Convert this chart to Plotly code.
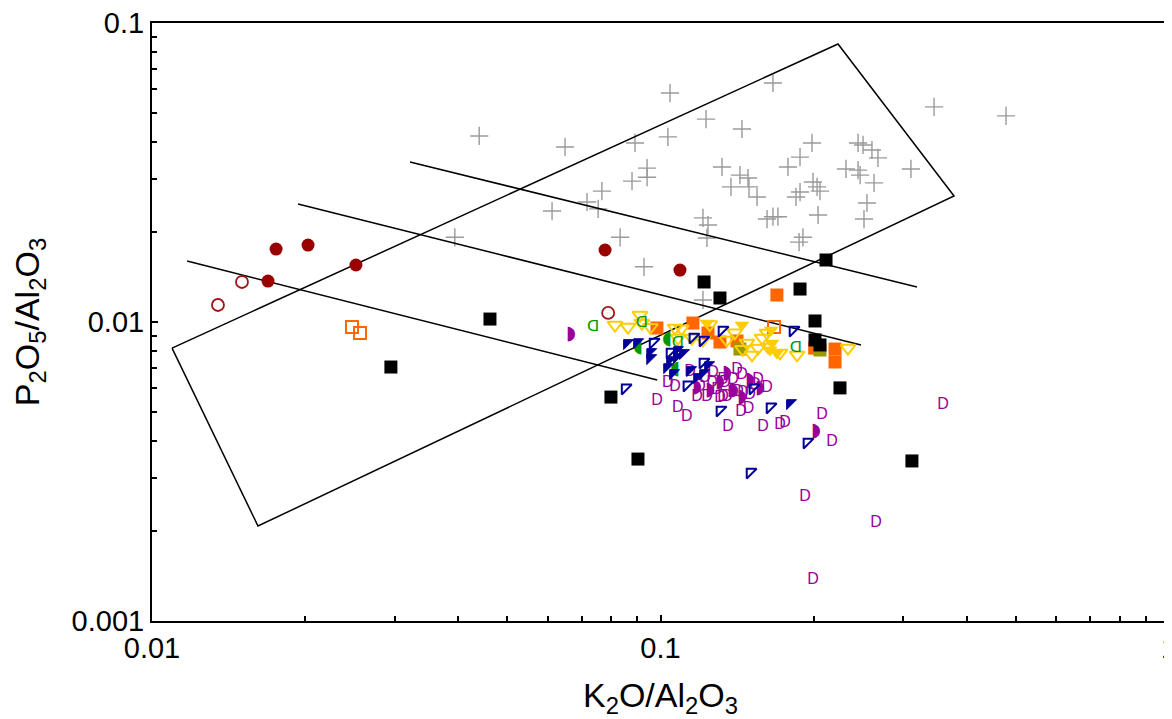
import plotly.graph_objects as go

# ---------------- data ----------------
# classification field boundaries (K2O/Al2O3, P2O5/Al2O3)
box_x = [0.01095, 0.2234, 0.3778, 0.01616, 0.01095]
box_y = [0.00818, 0.0851, 0.02638, 0.002078, 0.00818]
lowk_x = [0.01172, 0.0985]
lowk_y = [0.0160, 0.0064]
hik_x = [0.01937, 0.2479]
hik_y = [0.0248, 0.00838]
sho_x = [0.03216, 0.3194]
sho_y = [0.0343, 0.0131]

field_labels = ["Shoshonitic", "Hi-K", "Med-K", "Low-K"]
field_lab_x = [0.50, 0.348, 0.2764, 0.0466]
field_lab_y = [0.01895, 0.00962, 0.00492, 0.002916]

gray_x = [0.0394, 0.0440, 0.0612, 0.0649, 0.0717, 0.0754, 0.0767, 0.0833, 0.0879, 0.0891,
          0.0928, 0.0941, 0.0941, 0.1034, 0.1044, 0.1212, 0.1212, 0.1229, 0.1234, 0.1240,
          0.1321, 0.1376, 0.1433, 0.1446, 0.1486, 0.1493, 0.1548, 0.1620, 0.1664, 0.1664,
          0.1702, 0.1781, 0.1847, 0.1873, 0.1881, 0.1881, 0.1906, 0.1986, 0.1995, 0.2032,
          0.2041, 0.2059, 0.2316, 0.2446, 0.2446, 0.2469, 0.2502, 0.2513, 0.2547, 0.2605,
          0.2630, 0.2677, 0.3108, 0.3451, 0.4781]
gray_y = [0.0192, 0.0419, 0.0235, 0.0385, 0.0252, 0.0239, 0.0274, 0.0192, 0.0296, 0.0397,
          0.0153, 0.0327, 0.0305, 0.0416, 0.0583, 0.0223, 0.01185, 0.0477, 0.0191, 0.0211,
          0.0330, 0.0283, 0.0310, 0.0442, 0.0303, 0.0283, 0.0262, 0.0221, 0.0630, 0.0225,
          0.0225, 0.0330, 0.0262, 0.0185, 0.0356, 0.0272, 0.0192, 0.0397, 0.0294, 0.0283,
          0.0228, 0.0274, 0.0325, 0.0397, 0.0322, 0.0310, 0.0391, 0.0221, 0.0250, 0.0376,
          0.0292, 0.0354, 0.0325, 0.0524, 0.0489]

red_fill_x = [0.01691, 0.01754, 0.02027, 0.02518, 0.0778, 0.1092]
red_fill_y = [0.01371, 0.01754, 0.01809, 0.01551, 0.01741, 0.01492]

red_open_x = [0.01348, 0.01503, 0.0789]
red_open_y = [0.01140, 0.01361, 0.01072]

orange_open_x = [0.02474, 0.02565, 0.1672]
orange_open_y = [0.00962, 0.00919, 0.00962]

orange_fill_x = [0.0984, 0.1158, 0.1240, 0.1309, 0.1414, 0.1694, 0.2204, 0.2204, 0.2010]
orange_fill_y = [0.00955, 0.00992, 0.00919, 0.00857, 0.00864, 0.01231, 0.00812, 0.00735, 0.00818]

olive_x = [0.1433, 0.2059]
olive_y = [0.00812, 0.00806]

yellow_open_x = [0.0814, 0.0863, 0.0911, 0.0919, 0.0955, 0.1068, 0.1082, 0.1100, 0.1153, 0.1212,
                 0.1250, 0.1350, 0.1400, 0.1450, 0.1479, 0.1513, 0.1555, 0.1584, 0.1620, 0.1627,
                 0.1718, 0.1856, 0.2337]
yellow_open_y = [0.00977, 0.00962, 0.01055, 0.00992, 0.00960, 0.00955, 0.00884, 0.00950, 0.00884, 0.00871,
                 0.00980, 0.00870, 0.00920, 0.00810, 0.00851, 0.00776, 0.00818, 0.00884, 0.00919, 0.00825,
                 0.00788, 0.00776, 0.00818]

yellow_fill_x = [0.1234, 0.1446, 0.1642, 0.1694, 0.1657, 0.1650]
yellow_fill_y = [0.00992, 0.00977, 0.00806, 0.00788, 0.00851, 0.00940]

green_open_x = [0.0737, 0.1082, 0.1847, 0.0919]
green_open_y = [0.00962, 0.00851, 0.00818, 0.00992]
green_fill_x = [0.0903, 0.1030, 0.1068]
green_fill_y = [0.00825, 0.00877, 0.00696]

purple_open_x = [0.0984, 0.1034, 0.1068, 0.1082, 0.1127, 0.1180, 0.1196, 0.1234, 0.1263, 0.1269,
                 0.1291, 0.1309, 0.1327, 0.1339, 0.1327, 0.1351, 0.1357, 0.1388, 0.1388, 0.1414,
                 0.1421, 0.1440, 0.1446, 0.1453, 0.1490, 0.1500, 0.1534, 0.1591, 0.1620, 0.1718,
                 0.1757, 0.2078, 0.2174, 0.1924, 0.2653, 0.1995, 0.3594, 0.1143, 0.1223, 0.1555]
purple_open_y = [0.00544, 0.00625, 0.00606, 0.00516, 0.00481, 0.00561, 0.00606, 0.00561, 0.00625, 0.00675,
                 0.00592, 0.00557, 0.00640, 0.00625, 0.00561, 0.00561, 0.00446, 0.00640, 0.00579, 0.00691,
                 0.00583, 0.00500, 0.00665, 0.00579, 0.00512, 0.00570, 0.00616, 0.00446, 0.00602, 0.00452,
                 0.00460, 0.00489, 0.00397, 0.00260, 0.00213, 0.00137, 0.00528, 0.00680, 0.00650, 0.00640]
purple_fill_x = [0.0667, 0.1180, 0.1309, 0.1351, 0.1388, 0.1446, 0.1252, 0.1500, 0.2022, 0.1569]
purple_fill_y = [0.00912, 0.00606, 0.00630, 0.00675, 0.00592, 0.00561, 0.00592, 0.00640, 0.00432, 0.00602]

navy_open_x = [0.0852, 0.0967, 0.1044, 0.1127, 0.1158, 0.1212, 0.1212, 0.1321, 0.1309, 0.1520,
               0.1642, 0.1941, 0.1500, 0.1822]
navy_open_y = [0.00602, 0.00857, 0.00794, 0.00616, 0.00891, 0.00871, 0.00735, 0.00940, 0.00508, 0.00602,
               0.00520, 0.00397, 0.00315, 0.00940]
navy_fill_x = [0.0859, 0.0899, 0.0954, 0.0954, 0.1044, 0.1077, 0.1107, 0.1030, 0.1058, 0.1143,
               0.1180, 0.1212, 0.1240, 0.1797, 0.1077]
navy_fill_y = [0.00851, 0.00857, 0.00794, 0.00758, 0.00746, 0.00764, 0.00788, 0.00707, 0.00675, 0.00691,
               0.00655, 0.00675, 0.00718, 0.00536, 0.00806]

black_x = [0.0295, 0.0462, 0.0799, 0.0903, 0.1218, 0.1309, 0.1881, 0.2013, 0.2013, 0.2059,
           0.2116, 0.2254, 0.3122]
black_y = [0.00707, 0.01023, 0.00561, 0.00348, 0.01361, 0.01203, 0.01289, 0.01008, 0.00871, 0.00838,
           0.01612, 0.00602, 0.00343]

x_major = [0.01, 0.1, 1]
x_major_text = ["0.01", "0.1", "1"]
x_minor = [0.02, 0.03, 0.04, 0.05, 0.06, 0.07, 0.08, 0.09,
           0.2, 0.3, 0.4, 0.5, 0.6, 0.7, 0.8, 0.9]
y_major = [0.001, 0.01, 0.1]
y_major_text = ["0.001", "0.01", "0.1"]
y_minor = [0.002, 0.003, 0.004, 0.005, 0.006, 0.007, 0.008, 0.009,
           0.02, 0.03, 0.04, 0.05, 0.06, 0.07, 0.08, 0.09]

FONT = "Liberation Sans, Arial, sans-serif"

fig = go.Figure()

# gray reference field
fig.add_trace(go.Scatter(x=gray_x, y=gray_y, mode="markers",
                         marker=dict(symbol="cross-thin", size=13, color="#9a9a9a",
                                     line=dict(width=1.4, color="#9a9a9a"))))

# boundary lines
line_style = dict(color="black", width=1.5)
for lx, ly in [(box_x, box_y), (lowk_x, lowk_y), (hik_x, hik_y), (sho_x, sho_y)]:
    fig.add_trace(go.Scatter(x=lx, y=ly, mode="lines", line=line_style, hoverinfo="skip"))

fig.add_trace(go.Scatter(x=red_fill_x, y=red_fill_y, mode="markers",
                         marker=dict(symbol="circle", size=13, color="#990000")))
fig.add_trace(go.Scatter(x=red_open_x, y=red_open_y, mode="markers",
                         marker=dict(symbol="circle-open", size=12, color="#a01515",
                                     line=dict(width=1.8, color="#a01515"))))
fig.add_trace(go.Scatter(x=orange_open_x, y=orange_open_y, mode="markers",
                         marker=dict(symbol="square-open", size=12, color="#ff6600",
                                     line=dict(width=2, color="#ff6600"))))
fig.add_trace(go.Scatter(x=orange_fill_x, y=orange_fill_y, mode="markers",
                         marker=dict(symbol="square", size=13, color="#ff6600")))
fig.add_trace(go.Scatter(x=olive_x, y=olive_y, mode="markers",
                         marker=dict(symbol="square", size=13, color="#999900")))
fig.add_trace(go.Scatter(x=yellow_open_x, y=yellow_open_y, mode="markers",
                         marker=dict(symbol="triangle-down-open", size=13, color="#ffcc00",
                                     line=dict(width=2, color="#ffcc00"))))
fig.add_trace(go.Scatter(x=yellow_fill_x, y=yellow_fill_y, mode="markers",
                         marker=dict(symbol="triangle-down", size=13, color="#ffcc00")))
fig.add_trace(go.Scatter(x=green_open_x, y=green_open_y, mode="text", text=["ᗡ"] * len(green_open_x),
                         textfont=dict(family="DejaVu Sans", size=16, color="#009900")))
fig.add_trace(go.Scatter(x=green_fill_x, y=green_fill_y, mode="text", text=["◖"] * len(green_fill_x),
                         textfont=dict(family="DejaVu Sans", size=19, color="#009900")))
fig.add_trace(go.Scatter(x=purple_open_x, y=purple_open_y, mode="text", text=["D"] * len(purple_open_x),
                         textfont=dict(family=FONT, size=16, color="#990099")))
fig.add_trace(go.Scatter(x=purple_fill_x, y=purple_fill_y, mode="text", text=["◗"] * len(purple_fill_x),
                         textfont=dict(family="DejaVu Sans", size=19, color="#990099")))
fig.add_trace(go.Scatter(x=navy_open_x, y=navy_open_y, mode="markers",
                         marker=dict(symbol="triangle-nw-open", size=11, color="#000099",
                                     line=dict(width=2, color="#000099"))))
fig.add_trace(go.Scatter(x=navy_fill_x, y=navy_fill_y, mode="markers",
                         marker=dict(symbol="triangle-nw", size=11, color="#000099",
                                     line=dict(width=1, color="#000099"))))
fig.add_trace(go.Scatter(x=black_x, y=black_y, mode="markers",
                         marker=dict(symbol="square", size=13, color="black")))

for t, xv, yv in zip(field_labels, field_lab_x, field_lab_y):
    fig.add_annotation(x=xv, y=yv, xref="x", yref="y", text=t, showarrow=False,
                       font=dict(family=FONT, size=30, color="black"))

# the page body adds an 8px offset; the figure is sized to compensate
fig.update_layout(
    width=1164, height=711,
    margin=dict(l=144, r=3, t=15, b=98),
    paper_bgcolor="white", plot_bgcolor="white",
    showlegend=False,
    font=dict(family=FONT, color="black"),
)
fig.update_xaxes(
    type="log", range=[-2, 0], automargin=False, ticklabeloverflow="allow",
    tickmode="array", tickvals=x_major, ticktext=x_major_text,
    ticks="inside", ticklen=6, tickwidth=1.5, tickcolor="black",
    minor=dict(tickmode="array", tickvals=x_minor, ticks="inside", ticklen=5,
               tickwidth=1.5, tickcolor="black", showgrid=False),
    showline=True, linecolor="black", linewidth=2, mirror=True,
    showgrid=False, zeroline=False,
    tickfont=dict(size=29, family=FONT, color="black"),
    title=dict(text="K<sub>2</sub>O/Al<sub>2</sub>O<sub>3</sub>",
               font=dict(size=34, family=FONT, color="black"), standoff=20),
)
fig.update_yaxes(
    type="log", range=[-3, -1], automargin=False, ticklabeloverflow="allow",
    tickmode="array", tickvals=y_major, ticktext=y_major_text,
    ticks="inside", ticklen=6, tickwidth=1.5, tickcolor="black",
    minor=dict(tickmode="array", tickvals=y_minor, ticks="inside", ticklen=5,
               tickwidth=1.5, tickcolor="black", showgrid=False),
    showline=True, linecolor="black", linewidth=2, mirror=True,
    showgrid=False, zeroline=False,
    tickfont=dict(size=29, family=FONT, color="black"),
    title=dict(text="P<sub>2</sub>O<sub>5</sub>/Al<sub>2</sub>O<sub>3</sub>",
               font=dict(size=34, family=FONT, color="black"), standoff=26),
)

fig.write_html("out.html")
